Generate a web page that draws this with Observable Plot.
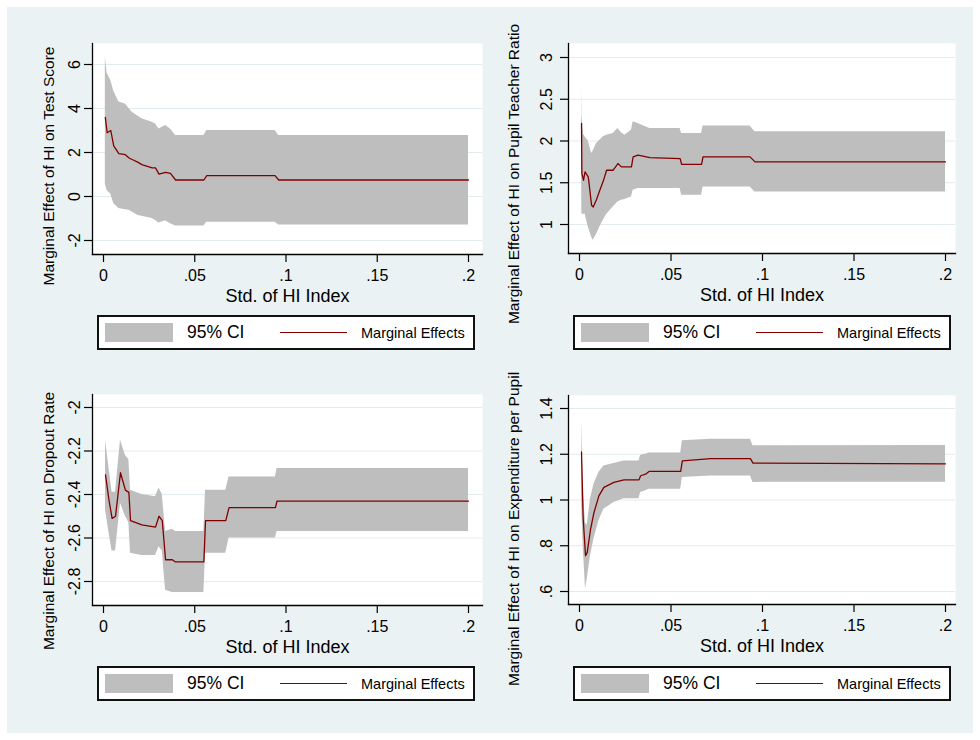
<!DOCTYPE html>
<html><head><meta charset="utf-8">
<script src="https://cdn.jsdelivr.net/npm/d3@7"></script>
<script src="https://cdn.jsdelivr.net/npm/@observablehq/plot@0.6"></script>
<style>
html,body{margin:0;padding:0;background:#fff;}
body{width:980px;height:740px;position:relative;overflow:hidden;font-family:"Liberation Sans",Arial,sans-serif;color:#000;}
#bg{position:absolute;left:7px;top:7px;right:7px;bottom:7px;background:#eaf2f3;}
.panel{position:absolute;}
.ytitle{position:absolute;white-space:nowrap;font-size:15.5px;line-height:1;transform:translate(-50%,-50%) rotate(-90deg);}
.legend{position:absolute;width:378px;height:35px;box-sizing:border-box;border:2px solid #111;background:#fff;}
.legend .sw{position:absolute;left:6px;top:6px;width:68px;height:19px;background:#bebebe;}
.legend .ci{position:absolute;left:88px;top:7px;font-size:17.5px;line-height:1;}
.legend .ln{position:absolute;left:181px;top:15px;width:67px;height:0;border-top:1.3px solid #800000;}
.legend .me{position:absolute;left:262px;top:9px;font-size:14.5px;line-height:1;}
</style>
</head><body>
<div id="bg"></div>
<script>
// ---------- shared axis ----------
const xTicks = [0, 0.05, 0.1, 0.15, 0.2];
const xTickLabels = ["0", ".05", ".1", ".15", ".2"];
const xTitle = "Std. of HI Index";
const legendCI = "95% CI";
const legendME = "Marginal Effects";

// ---------- Panel 1: Test Score ----------
const p1Title = "Marginal Effect of HI on Test Score";
const p1X  = [0.001, 0.002, 0.004, 0.0056, 0.0084, 0.012, 0.014, 0.0157, 0.019, 0.021, 0.0267, 0.0285, 0.0304, 0.034, 0.0367, 0.0395, 0.055, 0.0566, 0.094, 0.096, 0.2];
const p1Me = [3.6, 2.9, 3.0, 2.3, 1.95, 1.9, 1.75, 1.68, 1.55, 1.45, 1.3, 1.3, 1.02, 1.1, 1.05, 0.75, 0.75, 0.95, 0.95, 0.75, 0.75];
const p1Hi = [6.35, 5.6, 5.27, 4.8, 4.29, 4.2, 4.0, 3.83, 3.65, 3.53, 3.38, 3.3, 3.07, 3.23, 3.07, 2.77, 2.77, 3.0, 3.0, 2.77, 2.77];
const p1Lo = [0.55, 0.27, 0.1, -0.32, -0.55, -0.6, -0.62, -0.7, -0.86, -0.9, -1.0, -1.09, -1.21, -1.1, -1.24, -1.34, -1.34, -1.17, -1.17, -1.3, -1.3];
const p1YTicks = [-2, 0, 2, 4, 6];
const p1YTickLabels = ["-2", "0", "2", "4", "6"];

// ---------- Panel 2: Pupil Teacher Ratio ----------
const p2Title = "Marginal Effect of HI on Pupil Teacher Ratio";
const p2X  = [0.0011, 0.0013, 0.0022, 0.003, 0.0048, 0.0066, 0.0075, 0.0093, 0.0111, 0.013, 0.0148, 0.0184, 0.021, 0.0229, 0.0248, 0.0284, 0.0293, 0.032, 0.0384, 0.055, 0.0558, 0.0667, 0.0675, 0.0932, 0.0959, 0.2];
const p2Me = [2.21, 1.61, 1.53, 1.63, 1.57, 1.23, 1.21, 1.3, 1.41, 1.52, 1.65, 1.65, 1.73, 1.69, 1.69, 1.69, 1.81, 1.83, 1.8, 1.79, 1.72, 1.72, 1.81, 1.81, 1.75, 1.75];
const p2Hi = [2.64, 2.3, 2.08, 2.05, 2.0, 1.85, 1.88, 1.97, 2.01, 2.05, 2.07, 2.09, 2.15, 2.1, 2.07, 2.13, 2.23, 2.21, 2.15, 2.15, 2.09, 2.09, 2.18, 2.18, 2.11, 2.11];
const p2Lo = [1.75, 1.13, 1.12, 1.13, 0.97, 0.85, 0.81, 0.88, 0.97, 1.05, 1.12, 1.21, 1.27, 1.29, 1.3, 1.33, 1.41, 1.43, 1.43, 1.43, 1.35, 1.35, 1.45, 1.45, 1.39, 1.39];
const p2YTicks = [1, 1.5, 2, 2.5, 3];
const p2YTickLabels = ["1", "1.5", "2", "2.5", "3"];

// ---------- Panel 3: Dropout Rate ----------
const p3Title = "Marginal Effect of HI on Dropout Rate";
const p3X  = [0.0011, 0.0029, 0.0047, 0.0066, 0.0093, 0.012, 0.0139, 0.0148, 0.021, 0.0285, 0.0304, 0.0322, 0.034, 0.0377, 0.0395, 0.055, 0.0559, 0.067, 0.0688, 0.0942, 0.0951, 0.2];
const p3Me = [-2.31, -2.42, -2.51, -2.5, -2.3, -2.38, -2.39, -2.52, -2.54, -2.55, -2.5, -2.52, -2.7, -2.7, -2.71, -2.71, -2.52, -2.52, -2.46, -2.46, -2.43, -2.43];
const p3Hi = [-2.15, -2.27, -2.39, -2.39, -2.15, -2.22, -2.24, -2.38, -2.4, -2.41, -2.37, -2.4, -2.57, -2.56, -2.57, -2.57, -2.38, -2.38, -2.32, -2.32, -2.28, -2.28];
const p3Lo = [-2.47, -2.57, -2.66, -2.66, -2.44, -2.5, -2.53, -2.67, -2.68, -2.68, -2.64, -2.66, -2.84, -2.85, -2.85, -2.85, -2.67, -2.67, -2.6, -2.6, -2.57, -2.57];
const p3YTicks = [-2.8, -2.6, -2.4, -2.2, -2];
const p3YTickLabels = ["-2.8", "-2.6", "-2.4", "-2.2", "-2"];

// ---------- Panel 4: Expenditure per Pupil ----------
const p4Title = "Marginal Effect of HI on Expenditure per Pupil";
const p4X  = [0.0011, 0.002, 0.0033, 0.0042, 0.006, 0.0079, 0.0106, 0.0133, 0.0188, 0.0243, 0.0325, 0.0334, 0.0361, 0.038, 0.0553, 0.0562, 0.0716, 0.0934, 0.0948, 0.2];
const p4Me = [1.21, 0.92, 0.756, 0.77, 0.87, 0.945, 1.018, 1.055, 1.077, 1.088, 1.088, 1.106, 1.113, 1.125, 1.125, 1.171, 1.181, 1.181, 1.161, 1.158];
const p4Hi = [1.346, 1.05, 0.9, 0.89, 1.004, 1.069, 1.12, 1.149, 1.16, 1.17, 1.17, 1.196, 1.2, 1.205, 1.205, 1.259, 1.266, 1.266, 1.237, 1.238];
const p4Lo = [1.0, 0.8, 0.61, 0.654, 0.756, 0.829, 0.909, 0.96, 0.989, 1.006, 1.006, 1.033, 1.04, 1.047, 1.047, 1.098, 1.105, 1.105, 1.077, 1.078];
const p4YTicks = [0.6, 0.8, 1, 1.2, 1.4];
const p4YTickLabels = [".6", ".8", "1", "1.2", "1.4"];

const CI_FILL = "#bebebe";
const LINE = "#800000";
const FONT = "Liberation Sans, Arial, sans-serif";

function makePanel(cfg) {
  const data = cfg.x.map((d, i) => ({x: d, lo: cfg.lo[i], me: cfg.me[i], hi: cfg.hi[i]}));
  const yt = cfg.yTicks, ytl = cfg.yTickLabels;
  const chart = Plot.plot({
    width: cfg.width, height: cfg.height,
    marginLeft: cfg.ml, marginRight: cfg.mr, marginTop: cfg.mt, marginBottom: cfg.mb,
    style: {background: "transparent", fontFamily: FONT, color: "#000", overflow: "visible"},
    x: {domain: [0, 0.2], insetLeft: cfg.il, insetRight: cfg.ir},
    y: {domain: [yt[0], yt[yt.length - 1]], insetTop: cfg.it, insetBottom: cfg.ib},
    marks: [
      Plot.frame({fill: "#ffffff", stroke: "none"}),
      Plot.gridY(yt, {stroke: "#e2ebee", strokeOpacity: 1, strokeWidth: 1}),
      Plot.areaY(data, {x: "x", y1: "lo", y2: "hi", fill: CI_FILL}),
      Plot.lineY(data, {x: "x", y: "me", stroke: LINE, strokeWidth: 1.3}),
      Plot.frame({anchor: "left", stroke: "#000", strokeWidth: 1.3}),
      Plot.frame({anchor: "bottom", stroke: "#000", strokeWidth: 1.3}),
      Plot.axisX(xTicks, {tickSize: 8, tickPadding: 7, fontSize: 16, tickFormat: d => xTickLabels[xTicks.indexOf(d)], label: null, strokeWidth: 1.2}),
      Plot.axisY(yt, {tickSize: 8, tickPadding: cfg.tp, tickRotate: -90, fontSize: 16, tickFormat: d => ytl[yt.indexOf(d)], label: null, strokeWidth: 1.2}),
      Plot.text([xTitle], {frameAnchor: "bottom", dy: 47, lineAnchor: "bottom", fontSize: 18})
    ]
  });
  const wrap = document.createElement("div");
  wrap.className = "panel";
  wrap.style.left = cfg.left + "px";
  wrap.style.top = cfg.top + "px";
  wrap.appendChild(chart);
  document.body.appendChild(wrap);

  const t = document.createElement("div");
  t.className = "ytitle";
  t.textContent = cfg.title;
  t.style.left = cfg.tx + "px";
  t.style.top = cfg.ty + "px";
  document.body.appendChild(t);

  const lg = document.createElement("div");
  lg.className = "legend";
  lg.style.left = cfg.lx + "px";
  lg.style.top = cfg.ly + "px";
  lg.innerHTML = `<div class="sw"></div><div class="ci">${legendCI}</div><div class="ln"></div><div class="me">${legendME}</div>`;
  document.body.appendChild(lg);
}

makePanel({x: p1X, lo: p1Lo, me: p1Me, hi: p1Hi, yTicks: p1YTicks, yTickLabels: p1YTickLabels, title: p1Title,
  left: 0, top: 0, width: 490, height: 315, ml: 92, mr: 8, mt: 43, mb: 61, il: 11, ir: 14, it: 21, ib: 14, tp: 5,
  tx: 49, ty: 166, lx: 97, ly: 315});
makePanel({x: p2X, lo: p2Lo, me: p2Me, hi: p2Hi, yTicks: p2YTicks, yTickLabels: p2YTickLabels, title: p2Title,
  left: 476, top: 0, width: 490, height: 315, ml: 92, mr: 11, mt: 43, mb: 62, il: 11, ir: 10, it: 14, ib: 29, tp: 9,
  tx: 514, ty: 174, lx: 573, ly: 315});
makePanel({x: p3X, lo: p3Lo, me: p3Me, hi: p3Hi, yTicks: p3YTicks, yTickLabels: p3YTickLabels, title: p3Title,
  left: 0, top: 351, width: 490, height: 315, ml: 92, mr: 8, mt: 43, mb: 61, il: 11, ir: 14, it: 13, ib: 24, tp: 5,
  tx: 49, ty: 521, lx: 97, ly: 666});
makePanel({x: p4X, lo: p4Lo, me: p4Me, hi: p4Hi, yTicks: p4YTicks, yTickLabels: p4YTickLabels, title: p4Title,
  left: 476, top: 351, width: 490, height: 315, ml: 92, mr: 11, mt: 44, mb: 62, il: 11, ir: 10, it: 13, ib: 13, tp: 9,
  tx: 514, ty: 529, lx: 573, ly: 666});
</script>
</body></html>
